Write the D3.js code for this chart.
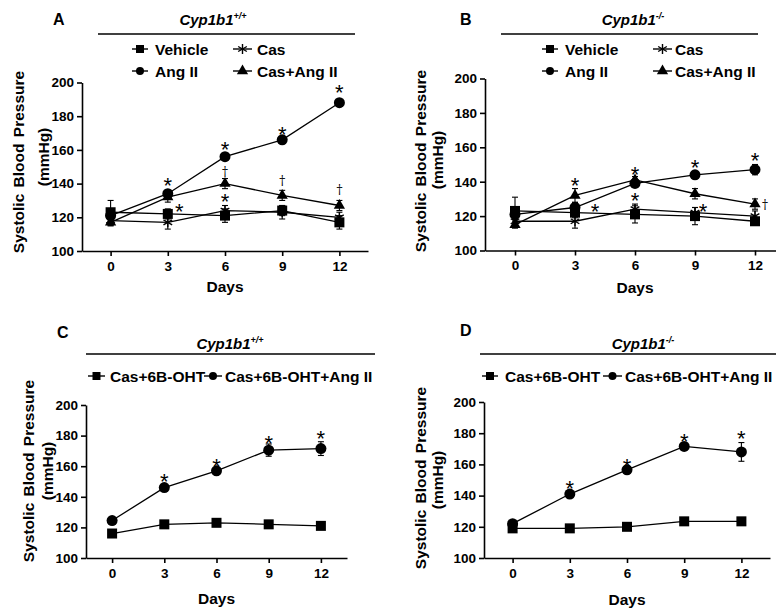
<!DOCTYPE html>
<html lang="en">
<head>
<meta charset="UTF-8">
<title>Systolic Blood Pressure - Cyp1b1</title>
<script src="https://d3js.org/d3.v7.min.js"></script>
<style>
  body { margin: 0; background: #fff; }
  svg { display: block; font-family: "Liberation Sans", Arial, sans-serif; }
</style>
</head>
<body>
<svg width="776" height="610"></svg>
<script>
const days = [0, 3, 6, 9, 12];
const yTicks = [100, 120, 140, 160, 180, 200];

// Panel A, Cyp1b1 +/+
const aVehicle = [123, 122, 121, 124, 117];
const aVehicleErr = [7, 3, 4, 3, 4];
const aCas = [118, 117, 124, 123, 120];
const aCasErr = [3, 4, 3, 4, 3];
const aAngII = [121, 134, 156, 166, 188];
const aAngIIErr = [3, 2, 1, 1, 1.5];
const aCasAngII = [117, 132, 140, 133, 127];
const aCasAngIIErr = [2, 3, 3, 3, 3];
const aMarks = [[3, 142, "*"], [3.6, 126.5, "*"], [6, 163, "*"], [6, 147, "†"], [6, 132.5, "*"],
                [9, 172, "*"], [9, 141.5, "†"], [12, 197, "*"], [12, 136, "†"]];

// Panel B, Cyp1b1 -/-
const bVehicle = [123, 122, 121, 120, 117];
const bVehicleErr = [8, 3, 5, 5, 2];
const bCas = [117, 117, 124, 122, 120];
const bCasErr = [3, 4, 3, 3, 3];
const bAngII = [121, 125, 139, 144, 147];
const bAngIIErr = [3, 3, 2, 1, 3];
const bCasAngII = [115, 132, 141, 133, 127];
const bCasAngIIErr = [2, 4, 2, 3, 3];
const bMarks = [[3, 140.5, "*"], [4, 125.5, "*"], [6, 147, "*"], [6, 132, "*"],
                [9, 151, "*"], [9.4, 125.5, "*"], [12, 155.5, "*"], [12.5, 126.3, "†"]];

// Panel C, Cyp1b1 +/+
const cCasOHT = [116, 122, 123, 122, 121];
const cCasOHTErr = [1, 1, 1, 2, 2];
const cCasOHTAng = [124.5, 146, 157, 170.5, 171.5];
const cCasOHTAngErr = [1, 1, 1, 4, 4.5];
const cMarks = [[3, 153.5, "*"], [6, 163, "*"], [9, 178, "*"], [12, 181.5, "*"]];

// Panel D, Cyp1b1 -/-
const dCasOHT = [119, 119, 120, 123.5, 123.5];
const dCasOHTErr = [1, 1, 1, 1, 1];
const dCasOHTAng = [122, 141, 156.5, 171.5, 168];
const dCasOHTAngErr = [2, 1, 1, 1, 6];
const dMarks = [[3, 148, "*"], [6, 162, "*"], [9, 177.7, "*"], [12, 179.8, "*"]];

const legend4 = ["Vehicle", "Cas", "Ang II", "Cas+Ang II"];
const legend2 = ["Cas+6B-OHT", "Cas+6B-OHT+Ang II"];

const svg = d3.select("svg");

function series(name, shape, vals, errs) {
    return { name, shape, points: days.map((d, i) => ({ day: d, v: vals[i], e: errs[i] })) };
}

const panels = [
    { key: "A", geno: "+/+", xr: [82, 368], yr: [251, 82.5],
      series: [series(legend4[0], "square", aVehicle, aVehicleErr), series(legend4[1], "asterisk", aCas, aCasErr),
               series(legend4[2], "circle", aAngII, aAngIIErr), series(legend4[3], "triangle", aCasAngII, aCasAngIIErr)],
      marks: aMarks,
      head: { letter: [53, 25], title: [213, 25], rule: [98, 355, 34], legendRows: [49, 71], legendCols: [[132, 148, 155], [233, 252, 257]] },
      ylab: [18, 43, 162, 157], xlab: [270, 292] },
    { key: "B", geno: "-/-", xr: [485, 785], yr: [250.5, 78.5],
      series: [series(legend4[0], "square", bVehicle, bVehicleErr), series(legend4[1], "asterisk", bCas, bCasErr),
               series(legend4[2], "circle", bAngII, bAngIIErr), series(legend4[3], "triangle", bCasAngII, bCasAngIIErr)],
      marks: bMarks,
      head: { letter: [460, 25], title: [633, 25], rule: [501, 758, 34], legendRows: [49, 71], legendCols: [[542, 558, 565], [653, 672, 675]] },
      ylab: [420, 437, 161, 160], xlab: [270, 293] },
    { key: "C", geno: "+/+", xr: [86, 347], yr: [558, 405],
      series: [series(legend2[0], "square", cCasOHT, cCasOHTErr), series(legend2[1], "circle", cCasOHTAng, cCasOHTAngErr)],
      marks: cMarks,
      head: { letter: [57, 338], title: [230, 349], rule: [86, 375, 354], legendRows: [376], legendCols: [[88, 105, 110], [204, 222, 225]] },
      ylab: [28, 47, 471, 471], xlab: [580, 604] },
    { key: "D", geno: "-/-", xr: [484, 770], yr: [558, 402],
      series: [series(legend2[0], "square", dCasOHT, dCasOHTErr), series(legend2[1], "circle", dCasOHTAng, dCasOHTAngErr)],
      marks: dMarks,
      head: { letter: [460, 336], title: [643, 349], rule: [480, 776, 354], legendRows: [376], legendCols: [[482, 498, 505], [603, 622, 625]] },
      ylab: [420, 437, 478, 480], xlab: [581, 605] }
];

function drawMarker(g, shape, cx, cy) {
    if (shape === "square") {
        g.append("rect").attr("x", cx - 5).attr("y", cy - 5).attr("width", 10).attr("height", 10).attr("fill", "#000");
    } else if (shape === "circle") {
        g.append("circle").attr("cx", cx).attr("cy", cy).attr("r", 5.5).attr("fill", "#000");
    } else if (shape === "triangle") {
        g.append("path").attr("transform", `translate(${cx},${cy})`)
            .attr("d", d3.symbol(d3.symbolTriangle, 55)()).attr("fill", "#000");
    } else {
        const r = 5;
        [90, 30, 150].forEach(a => {
            const dx = r * Math.cos(a * Math.PI / 180), dy = r * Math.sin(a * Math.PI / 180);
            g.append("line").attr("x1", cx - dx).attr("y1", cy - dy).attr("x2", cx + dx).attr("y2", cy + dy)
                .attr("stroke", "#000").attr("stroke-width", 1.4);
        });
    }
}

function drawPanel(p) {
    const x = d3.scaleLinear().domain([-1.5, 13.5]).range(p.xr);
    const y = d3.scaleLinear().domain([100, 200]).range(p.yr);
    const g = svg.append("g");

    // axes
    const xa = g.append("g").attr("transform", `translate(0,${p.yr[0]})`)
        .call(d3.axisBottom(x).tickValues(days).tickSize(5).tickSizeOuter(0).tickPadding(5));
    const ya = g.append("g").attr("transform", `translate(${p.xr[0]},0)`)
        .call(d3.axisLeft(y).tickValues(yTicks).tickSize(5).tickSizeOuter(0).tickPadding(3));
    [xa, ya].forEach(a => {
        a.attr("font-family", null).attr("font-size", null);
        a.selectAll("path, line").attr("stroke", "#000").attr("stroke-width", 1.6);
        a.selectAll("text").attr("fill", "#000").attr("font-size", 13.5).attr("font-weight", "bold");
    });

    // axis titles
    g.append("text").attr("x", (x(0) + x(12)) / 2).attr("y", p.xlab[1]).attr("text-anchor", "middle")
        .attr("font-size", 15.5).attr("font-weight", "bold").text("Days");
    g.append("text").attr("transform", `translate(${p.ylab[0] + 5.5},${p.ylab[2]}) rotate(-90)`)
        .attr("text-anchor", "middle").attr("font-size", 15.5).attr("font-weight", "bold")
        .attr("word-spacing", 2).text("Systolic Blood Pressure");
    g.append("text").attr("transform", `translate(${p.ylab[1] + 5.5},${p.ylab[3]}) rotate(-90)`)
        .attr("text-anchor", "middle").attr("font-size", 15.5).attr("font-weight", "bold").text("(mmHg)");

    // header: panel letter, genotype title, rule
    g.append("text").attr("x", p.head.letter[0]).attr("y", p.head.letter[1])
        .attr("font-size", 16).attr("font-weight", "bold").text(p.key);
    const t = g.append("text").attr("x", p.head.title[0]).attr("y", p.head.title[1]).attr("text-anchor", "middle")
        .attr("font-size", 15).attr("font-weight", "bold").attr("font-style", "italic");
    t.append("tspan").text("Cyp1b1");
    t.append("tspan").attr("font-size", 9).attr("dy", -6).text(p.geno);
    g.append("line").attr("x1", p.head.rule[0]).attr("x2", p.head.rule[1])
        .attr("y1", p.head.rule[2]).attr("y2", p.head.rule[2]).attr("stroke", "#000").attr("stroke-width", 1.6);

    // legend
    p.series.forEach((s, i) => {
        const row = p.head.legendRows[Math.floor(i / 2)];
        const col = p.head.legendCols[i % 2];
        g.append("line").attr("x1", col[0]).attr("x2", col[1]).attr("y1", row).attr("y2", row)
            .attr("stroke", "#000").attr("stroke-width", 1.4);
        const lm = g.append("g");
        drawMarker(lm, s.shape, (col[0] + col[1]) / 2, row);
        lm.selectAll("rect").attr("x", (col[0] + col[1]) / 2 - 4).attr("y", row - 4).attr("width", 8).attr("height", 8);
        lm.selectAll("circle").attr("r", 4);
        g.append("text").attr("x", col[2]).attr("y", row + 5.5).attr("font-size", 15.5).attr("font-weight", "bold").text(s.name);
    });

    // series lines
    const line = d3.line().x(d => x(d.day)).y(d => y(d.v));
    p.series.forEach(s => {
        g.append("path").datum(s.points).attr("d", line).attr("fill", "none")
            .attr("stroke", "#000").attr("stroke-width", 1.3);
    });
    // error bars
    p.series.forEach(s => {
        s.points.forEach(d => {
            const eb = g.append("g").attr("stroke", "#000").attr("stroke-width", 1.1);
            eb.append("line").attr("x1", x(d.day)).attr("x2", x(d.day)).attr("y1", y(d.v - d.e)).attr("y2", y(d.v + d.e));
            [d.v - d.e, d.v + d.e].forEach(v => {
                eb.append("line").attr("x1", x(d.day) - 3).attr("x2", x(d.day) + 3).attr("y1", y(v)).attr("y2", y(v));
            });
        });
    });
    // markers
    p.series.forEach(s => {
        s.points.forEach(d => drawMarker(g, s.shape, x(d.day), y(d.v)));
    });

    // significance marks
    p.marks.forEach(m => {
        const star = m[2] === "*";
        g.append("text").attr("x", x(m[0])).attr("y", y(m[1]) + (star ? 12.5 : 4))
            .attr("text-anchor", "middle").attr("fill", "#000")
            .attr("font-family", star ? "Liberation Sans, Arial, sans-serif" : "DejaVu Serif, serif")
            .attr("font-size", star ? 22 : 12).text(m[2]);
    });
}

panels.forEach(drawPanel);
</script>
</body>
</html>
